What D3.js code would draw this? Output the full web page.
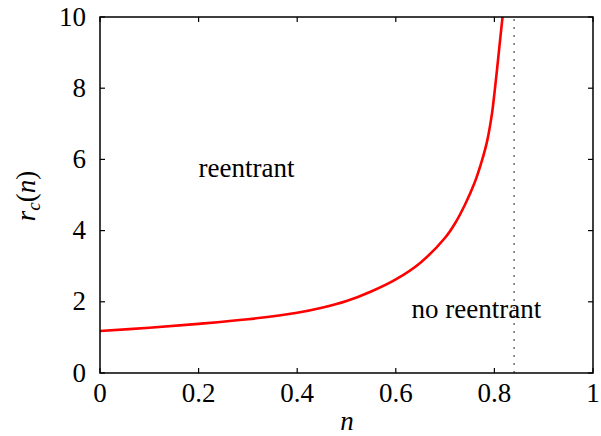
<!DOCTYPE html>
<html><head><meta charset="utf-8">
<script src="https://cdn.jsdelivr.net/npm/d3@7"></script>
<style>body{margin:0;background:#fff}svg{display:block}</style>
</head><body><svg id="c" width="601" height="436"></svg>
<script>
const nValues = [0, 0.1, 0.2, 0.3, 0.4, 0.45, 0.5, 0.55, 0.6, 0.65, 0.7, 0.72, 0.74, 0.76, 0.775, 0.785, 0.795, 0.80, 0.805, 0.81, 0.8165];
const rValues = [1.18, 1.27, 1.38, 1.51, 1.69, 1.83, 2.02, 2.29, 2.63, 3.10, 3.80, 4.20, 4.72, 5.35, 5.98, 6.50, 7.28, 7.85, 8.48, 9.15, 10.0];
const asymptoteN = 0.84;
const xTicks = [0, 0.2, 0.4, 0.6, 0.8, 1];
const yTicks = [0, 2, 4, 6, 8, 10];
const regionLabels = [{text:"reentrant", n:0.2, r:5.5}, {text:"no reentrant", n:0.632, r:1.55}];

const FONT = "Times New Roman";
const svg = d3.select("#c");
const L=100, R=593, T=17, B=373;
const x = d3.scaleLinear().domain([0,1]).range([L,R]);
const y = d3.scaleLinear().domain([0,10]).range([B,T]);
const fs = 27;
const tk = 5;

// dotted asymptote
svg.append("line").attr("x1",x(asymptoteN)).attr("x2",x(asymptoteN)).attr("y1",B).attr("y2",T)
  .attr("stroke","#777").attr("stroke-width",1.6).attr("stroke-dasharray","2,6");

// curve
const data = nValues.map((n,i)=>({n, r:rValues[i]}));
svg.append("path").datum(data)
  .attr("d", d3.line().x(d=>x(d.n)).y(d=>y(d.r)).curve(d3.curveCatmullRom.alpha(0.5)))
  .attr("fill","none").attr("stroke","#ff0000").attr("stroke-width",2.6);

// frame
svg.append("rect").attr("x",L).attr("y",T).attr("width",R-L).attr("height",B-T)
  .attr("fill","none").attr("stroke","#000").attr("stroke-width",1.5);

// ticks (inward, mirrored)
xTicks.forEach(v=>{
  svg.append("line").attr("x1",x(v)).attr("x2",x(v)).attr("y1",B).attr("y2",B-tk).attr("stroke","#000").attr("stroke-width",1.2);
  svg.append("line").attr("x1",x(v)).attr("x2",x(v)).attr("y1",T).attr("y2",T+tk).attr("stroke","#000").attr("stroke-width",1.2);
  svg.append("text").attr("x",x(v)).attr("y",B+29).attr("text-anchor","middle").style("font-family",FONT).attr("font-size",fs).text(d3.format("~g")(v));
});
yTicks.forEach(v=>{
  svg.append("line").attr("x1",L).attr("x2",L+tk).attr("y1",y(v)).attr("y2",y(v)).attr("stroke","#000").attr("stroke-width",1.2);
  svg.append("line").attr("x1",R).attr("x2",R-tk).attr("y1",y(v)).attr("y2",y(v)).attr("stroke","#000").attr("stroke-width",1.2);
  svg.append("text").attr("x",L-14).attr("y",y(v)+8.5).attr("text-anchor","end").style("font-family",FONT).attr("font-size",fs).text(v);
});

// region labels
regionLabels.forEach(l=>{
  svg.append("text").attr("x",x(l.n)).attr("y",y(l.r)).style("font-family",FONT).attr("font-size",fs).text(l.text);
});

// axis labels
svg.append("text").attr("x",347).attr("y",430).attr("text-anchor","middle").style("font-family",FONT).attr("font-size",fs).attr("font-style","italic").text("n");
const yl = svg.append("text").attr("transform","translate(35,196) rotate(-90)").attr("text-anchor","middle").style("font-family",FONT).attr("font-size",fs);
yl.append("tspan").attr("font-style","italic").text("r");
yl.append("tspan").attr("font-style","italic").attr("font-size",19).attr("dy",5).text("c");
yl.append("tspan").attr("dy",-5).text("(");
yl.append("tspan").attr("font-style","italic").text("n");
yl.append("tspan").text(")");
</script></body></html>
